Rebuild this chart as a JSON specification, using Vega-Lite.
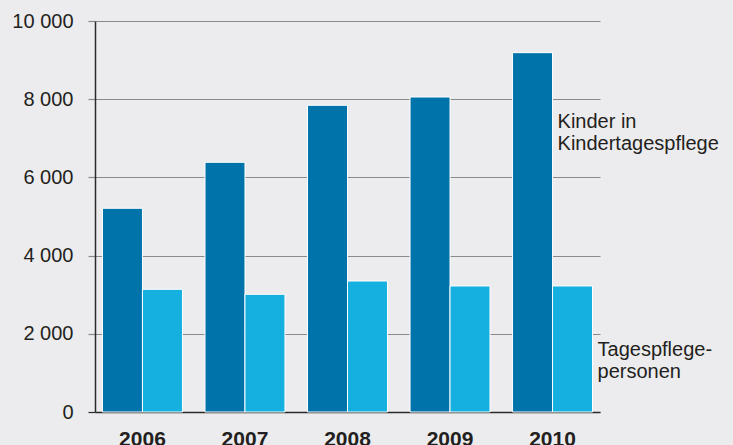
{
  "$schema": "https://vega.github.io/schema/vega-lite/v6.json",
  "autosize": "none",
  "width": 505,
  "height": 391,
  "padding": {"left": 95, "top": 21, "right": 133, "bottom": 33},
  "background": "#ececee",
  "config": {
    "view": {"stroke": null},
    "font": "Liberation Sans"
  },
  "layer": [
    {
      "data": {"values": [
        {"year": "2006", "series": "Kinder", "value": 5210},
        {"year": "2006", "series": "Personen", "value": 3138},
        {"year": "2007", "series": "Kinder", "value": 6386},
        {"year": "2007", "series": "Personen", "value": 3010},
        {"year": "2008", "series": "Kinder", "value": 7844},
        {"year": "2008", "series": "Personen", "value": 3350},
        {"year": "2009", "series": "Kinder", "value": 8056},
        {"year": "2009", "series": "Personen", "value": 3223},
        {"year": "2010", "series": "Kinder", "value": 9190},
        {"year": "2010", "series": "Personen", "value": 3223}
      ]},
      "mark": {"type": "bar", "stroke": "#ffffff", "strokeWidth": 1},
      "encoding": {
        "x": {
          "field": "year", "type": "nominal",
          "scale": {"paddingInner": 0.22, "paddingOuter": 0.073},
          "axis": {
            "title": null, "labelAngle": 0, "labelFontSize": 21, "labelFontWeight": "bold",
            "labelColor": "#231f20", "ticks": false, "labelPadding": 16,
            "domainColor": "#2a2a2a", "domainWidth": 1.5
          }
        },
        "xOffset": {"field": "series", "type": "nominal", "scale": {"paddingInner": 0, "paddingOuter": 0}},
        "y": {
          "field": "value", "type": "quantitative",
          "scale": {"domain": [0, 10000], "nice": false},
          "axis": {
            "title": null, "values": [0, 2000, 4000, 6000, 8000, 10000],
            "labelExpr": "replace(format(datum.value, ','), ',', ' ')",
            "labelFontSize": 20, "labelColor": "#231f20", "labelPadding": 15,
            "tickSize": 7,
            "tickColor": {"condition": {"test": "datum.value === 0", "value": "#2a2a2a"}, "value": "#8a8a8a"},
            "tickWidth": 1.2,
            "grid": true, "gridColor": "#8a8a8a", "gridWidth": 1.2,
            "domainColor": "#2a2a2a", "domainWidth": 1.5
          }
        },
        "color": {
          "field": "series", "type": "nominal",
          "scale": {"domain": ["Kinder", "Personen"], "range": ["#0073aa", "#15b0e0"]},
          "legend": null
        }
      }
    },
    {
      "data": {"values": [
        {"year": "2010", "series": "Kinder", "value": 7263, "label": ["Kinder in", "Kindertagespflege"]},
        {"year": "2010", "series": "Personen", "value": 1432, "label": ["Tagespflege-", "personen"]}
      ]},
      "mark": {"type": "text", "align": "left", "baseline": "alphabetic", "dx": 25, "fontSize": 20, "lineHeight": 22, "color": "#231f20"},
      "encoding": {
        "x": {"field": "year", "type": "nominal"},
        "xOffset": {"field": "series", "type": "nominal"},
        "y": {"field": "value", "type": "quantitative"},
        "text": {"field": "label"}
      }
    }
  ]
}
